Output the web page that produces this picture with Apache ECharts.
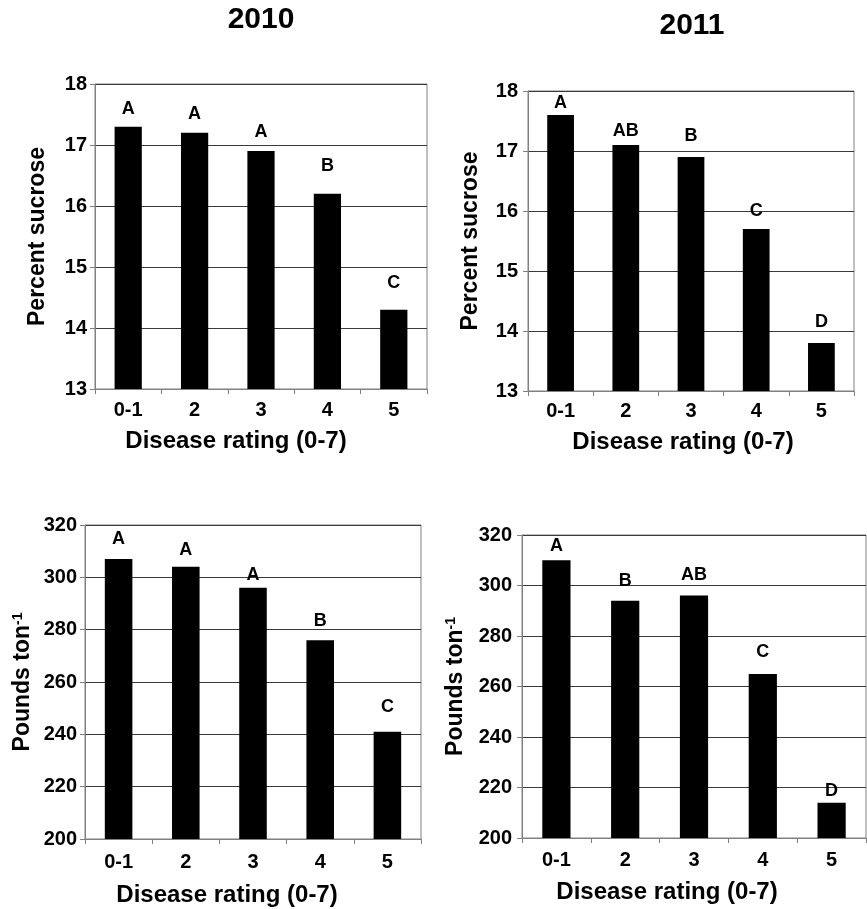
<!DOCTYPE html>
<html>
<head>
<meta charset="utf-8">
<script src="https://cdn.jsdelivr.net/npm/echarts@6/dist/echarts.min.js"></script>
<style>
html,body{margin:0;padding:0;background:#fff;}
#chart{width:867px;height:909px;}
</style>
</head>
<body>
<div id="chart"></div>
<script>
// ---- data ----
const categories = ['0-1', '2', '3', '4', '5'];
const sucrose2010 = [17.3, 17.2, 16.9, 16.2, 14.3];
const sucrose2011 = [17.6, 17.1, 16.9, 15.7, 13.8];
const pounds2010 = [307, 304, 296, 276, 241];
const pounds2011 = [310, 294, 296, 265, 214];
const letters_sucrose2010 = ['A', 'A', 'A', 'B', 'C'];
const letters_sucrose2011 = ['A', 'AB', 'B', 'C', 'D'];
const letters_pounds2010 = ['A', 'A', 'A', 'B', 'C'];
const letters_pounds2011 = ['A', 'B', 'AB', 'C', 'D'];
const yearTitles = ['2010', '2011'];
const xAxisTitle = 'Disease rating (0-7)';
const sucroseTitle = 'Percent sucrose';

// label gaps (style only)
const gapsTL = [9, 10, 10, 19, 18];
const gapsTR = [3, 5, 12, 9, 12];
const gapsBL = [11, 8, 4, 10, 16];
const gapsBR = [5, 11, 12, 13, 3];

const FONT = 'Liberation Sans, Arial, Helvetica, sans-serif';
const chart = echarts.init(document.getElementById('chart'), null, {renderer: 'canvas'});

const grids = [
  {left: 95, top: 84, width: 332, height: 305},
  {left: 528, top: 91, width: 326, height: 300},
  {left: 85, top: 525, width: 336, height: 314},
  {left: 522, top: 535, width: 344, height: 303}
].map(g => Object.assign({show: true, borderColor: '#808080', borderWidth: 1, backgroundColor: 'transparent'}, g));

const xNameGaps = [40, 39, 44, 42];
const xNameShift = [50, 16, 52, 54];
const xLabelMargins = [11, 10, 13, 12];
const xAxes = grids.map((g, i) => ({
  type: 'category', gridIndex: i, data: categories,
  name: xAxisTitle, nameLocation: 'middle', nameGap: xNameGaps[i],
  nameTextStyle: {fontFamily: FONT, fontWeight: 'bold', fontSize: 24, color: '#000',
    padding: [0, xNameShift[i], 0, 0]},
  axisLine: {show: true, lineStyle: {color: '#808080', width: 1}},
  axisTick: {show: true, length: 5, interval: 0, alignWithLabel: false, lineStyle: {color: '#808080'}},
  axisLabel: {fontFamily: FONT, fontWeight: 'bold', fontSize: 20, color: '#000', margin: xLabelMargins[i], interval: 0},
  splitLine: {show: false}
}));

const yCfg = [
  {min: 13, max: 18, interval: 1, name: sucroseTitle, gap: 46, margin: 8},
  {min: 13, max: 18, interval: 1, name: sucroseTitle, gap: 46, margin: 10},
  {min: 200, max: 320, interval: 20, name: '{a|Pounds ton}{b|-1}', gap: 50, margin: 8},
  {min: 200, max: 320, interval: 20, name: '{a|Pounds ton}{b|-1}', gap: 54, margin: 10}
];
const yAxes = yCfg.map((c, i) => ({
  type: 'value', gridIndex: i, min: c.min, max: c.max, interval: c.interval,
  name: c.name, nameLocation: 'middle', nameGap: c.gap, nameRotate: 90,
  nameTextStyle: {
    fontFamily: FONT, fontWeight: 'bold', fontSize: 23, color: '#000',
    rich: {
      a: {fontFamily: FONT, fontWeight: 'bold', fontSize: 23, color: '#000'},
      b: {fontFamily: FONT, fontWeight: 'bold', fontSize: 14, color: '#000', verticalAlign: 'top', padding: [0, 0, 10, 0]}
    }
  },
  axisLine: {show: true, lineStyle: {color: '#808080', width: 1}},
  axisTick: {show: true, length: 5, lineStyle: {color: '#808080'}},
  axisLabel: {fontFamily: FONT, fontWeight: 'bold', fontSize: 20, color: '#000', margin: c.margin},
  splitLine: {show: true, lineStyle: {color: '#3a3a3a', width: 1}}
}));

function makeSeries(idx, values, letters, gaps) {
  return {
    type: 'bar', xAxisIndex: idx, yAxisIndex: idx, barWidth: '41%',
    itemStyle: {color: '#000'},
    data: values.map((v, k) => ({
      value: v,
      label: {show: true, position: 'top', distance: gaps[k], formatter: letters[k],
        fontFamily: FONT, fontWeight: 'bold', fontSize: 18, color: '#000'}
    }))
  };
}

chart.setOption({
  animation: false,
  backgroundColor: '#fff',
  title: [
    {text: yearTitles[0], left: 261, top: 5, textAlign: 'center', padding: 0,
     textStyle: {fontFamily: FONT, fontWeight: 'bold', fontSize: 30, color: '#000'}},
    {text: yearTitles[1], left: 692, top: 11, textAlign: 'center', padding: 0,
     textStyle: {fontFamily: FONT, fontWeight: 'bold', fontSize: 30, color: '#000'}}
  ],
  grid: grids,
  xAxis: xAxes,
  yAxis: yAxes,
  series: [
    makeSeries(0, sucrose2010, letters_sucrose2010, gapsTL),
    makeSeries(1, sucrose2011, letters_sucrose2011, gapsTR),
    makeSeries(2, pounds2010, letters_pounds2010, gapsBL),
    makeSeries(3, pounds2011, letters_pounds2011, gapsBR)
  ]
});
</script>
</body>
</html>
